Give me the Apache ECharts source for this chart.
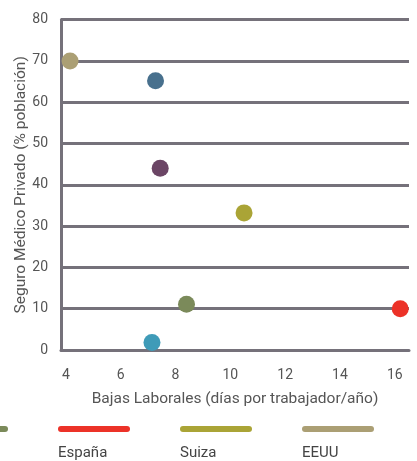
<!DOCTYPE html>
<html>
<head>
<meta charset="utf-8">
<script src="https://cdn.jsdelivr.net/npm/echarts@6/dist/echarts.min.js"></script>
<style>html,body{margin:0;padding:0;background:#fff}#c{width:417px;height:461px}</style>
</head>
<body>
<div id="c"></div>
<script>
// Legend / named countries
const legendNames = ['Alemania', 'España', 'Suiza', 'EEUU'];
const legendColors = ['#7b8a5a', '#ec3228', '#aaa436', '#ab9f74'];
// [días de baja, % seguro privado] per named country
const namedPoints = [[8.4, 11.1], [16.2, 10], [10.5, 33.2], [4.15, 70]];
// Other countries (not visible in legend)
const otherPoints = [[7.27, 65.2], [7.44, 44], [7.14, 1.8]];
const otherColors = ['#48708d', '#6b4565', '#3f9bb8'];
const xTicks = [4, 6, 8, 10, 12, 14, 16];
const yTicks = [0, 10, 20, 30, 40, 50, 60, 70, 80];

const chart = echarts.init(document.getElementById('c'));
const font = 'Roboto, "Liberation Sans", sans-serif';
const lineCol = '#75717a';

const series = legendNames.map((n, i) => ({
  name: n, type: 'scatter', symbolSize: 17,
  itemStyle: { color: legendColors[i], opacity: 1 },
  data: [namedPoints[i]]
}));
series.push({
  type: 'scatter', symbolSize: 17,
  data: otherPoints.map((p, i) => ({ value: p, itemStyle: { color: otherColors[i], opacity: 1 } }))
});

const rich = { t: { fontSize: 15, color: '#444', lineHeight: 42, fontFamily: font } };
legendColors.forEach((c, i) => {
  rich['l' + i] = { backgroundColor: c, width: 72, height: 6, borderRadius: 3, lineHeight: 6 };
});

chart.setOption({
  animation: false,
  textStyle: { fontFamily: font },
  grid: { left: 61, right: 8, top: 19.6, bottom: 111, containLabel: false },
  xAxis: {
    type: 'value', min: 3.82, max: 16.52,
    name: 'Bajas Laborales (días por trabajador/año)', nameLocation: 'middle', nameGap: 41,
    nameTextStyle: { fontSize: 15.5, color: '#555' },
    axisLine: { show: true, lineStyle: { color: lineCol, width: 3 } },
    axisTick: { show: false },
    splitLine: { show: false },
    axisLabel: { customValues: xTicks, fontSize: 14, color: '#555', margin: 18 }
  },
  yAxis: {
    type: 'value', min: 0, max: 80, interval: 10,
    name: 'Seguro Médico Privado (% población)', nameLocation: 'middle', nameGap: 32,
    nameMoveOverlap: false,
    nameTextStyle: { fontSize: 15.5, color: '#555' },
    axisLine: { show: true, lineStyle: { color: lineCol, width: 3 } },
    axisTick: { show: false },
    splitLine: { show: true, lineStyle: { color: lineCol, width: 3 } },
    axisLabel: { fontSize: 14, color: '#555', margin: 13, customValues: yTicks }
  },
  legend: {
    data: legendNames, left: -69, top: 423, padding: 0,
    icon: 'none', itemWidth: 0, itemHeight: 6, itemGap: 45,
    formatter: name => '{l' + legendNames.indexOf(name) + '| }\n{t|' + name + '}',
    textStyle: { rich: rich }
  },
  series: series
});
</script>
</body>
</html>
